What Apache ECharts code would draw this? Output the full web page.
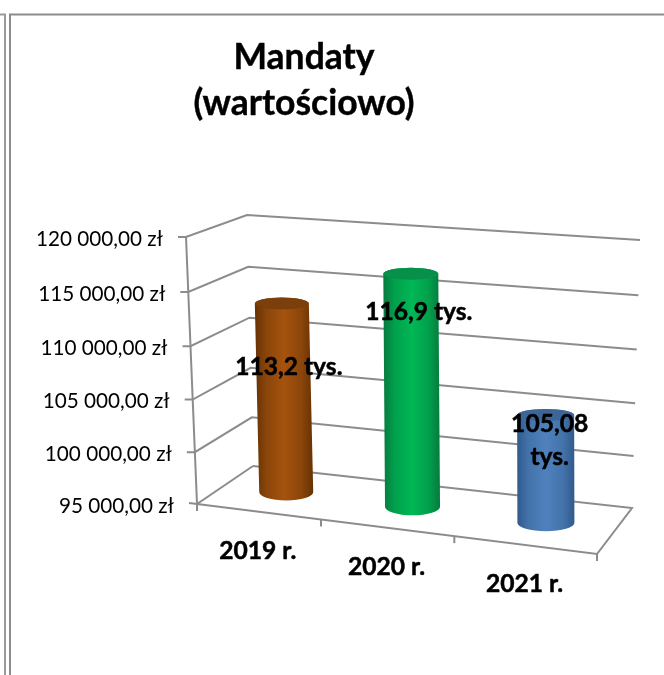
<!DOCTYPE html>
<html>
<head>
<meta charset="utf-8">
<title>Mandaty</title>
<script src="https://cdn.jsdelivr.net/npm/echarts@6/dist/echarts.min.js"></script>
<style>
    html, body { margin: 0; padding: 0; background: #fff; }
    #chart { width: 664px; height: 675px; }
</style>
</head>
<body>
<div id="chart"></div>
<script>
// data
var categories = ['2019 r.', '2020 r.', '2021 r.'];
var values = [113200, 116900, 105080];
var valueLabels = ['113,2 tys.', '116,9 tys.', '105,08\ntys.'];
var tickValues = [95000, 100000, 105000, 110000, 115000, 120000];
var tickLabels = ['95 000,00 zł', '100 000,00 zł', '105 000,00 zł', '110 000,00 zł', '115 000,00 zł', '120 000,00 zł'];

// look
var FONT = 'Lato, "Noto Sans", sans-serif';
var LINE = '#8c8c8c';
var barColors = [
    { edge: '#653205', mid: '#8a4509', light: '#a5530f', top: '#7a3f0b' },
    { edge: '#067a3e', mid: '#02a04c', light: '#00b755', top: '#079049' },
    { edge: '#2f5a8c', mid: '#4473ab', light: '#4f81bd', top: '#3d6698' }
];
var labelShift = [[10, 64], [14, 38], [7, -7]];
// x nudge of each cylinder [base, top] and its radius
var barNudge = [[2, 3], [3, 6], [2, 3]];
var barRadius = [27, 27.5, 28.5];

// corners of the 3d box in page pixels, [bottom, top]
var box = {
    frontLeft: [[197, 504], [186, 237]],
    frontRight: [[597, 554], [585, 269]],
    backLeft: [[253, 466], [247, 215]],
    backRight: [[632, 508], [640, 240]]
};

function mix(a, b, t) {
    return [a[0] + (b[0] - a[0]) * t, a[1] + (b[1] - a[1]) * t];
}

// u, v are 0..1 inside the grid, d is 0 at the front and 1 at the back
function project(u, v, d) {
    var uu = u * (0.895 + 0.105 * u);
    var vv = v * (0.9625 + 0.0375 * v);
    var front = mix(mix(box.frontLeft[0], box.frontLeft[1], vv), mix(box.frontRight[0], box.frontRight[1], vv), uu);
    var back = mix(mix(box.backLeft[0], box.backLeft[1], vv), mix(box.backRight[0], box.backRight[1], vv), uu);
    return mix(front, back, d);
}

// grid pixel from the axes -> 0..1 position
function unit(params, pt) {
    var cs = params.coordSys;
    return [(pt[0] - cs.x) / cs.width, (cs.y + cs.height - pt[1]) / cs.height];
}

function lineEl(points) {
    return {
        type: 'polyline',
        shape: { points: points },
        style: { fill: 'none', stroke: LINE, lineWidth: 2 }
    };
}

function renderWall(params, api) {
    var uv = unit(params, api.coord([0, api.value(1)]));
    var fl = project(0, uv[1], 0);
    var bl = project(0, uv[1], 1);
    var br = project(1, uv[1], 1);
    var isFloor = api.value(1) === tickValues[0];
    return {
        type: 'group',
        children: [
            lineEl(isFloor ? [[fl[0] - 8, fl[1] - 1], fl, bl] : [[fl[0] - 8, fl[1]], fl, bl, br]),
            {
                type: 'text',
                style: {
                    text: tickLabels[params.dataIndex],
                    x: fl[0] - 23,
                    y: fl[1] + 2,
                    align: 'right',
                    verticalAlign: 'middle',
                    fill: '#000',
                    font: '20.7px ' + FONT
                }
            }
        ]
    };
}

function renderFloor(params, api) {
    var min = tickValues[0];
    var max = tickValues[tickValues.length - 1];
    var v0 = unit(params, api.coord([0, min]))[1];
    var v1 = unit(params, api.coord([0, max]))[1];
    var kids = [
        lineEl([project(0, v0, 1), project(1, v0, 1), project(1, v0, 0), project(0, v0, 0)]),
        lineEl([project(0, v0, 0), project(0, v1, 0)])
    ];
    for (var i = 0; i <= categories.length; i++) {
        var p = project(i / categories.length, v0, 0);
        kids.push(lineEl([p, [p[0], p[1] + 7]]));
    }
    return { type: 'group', children: kids };
}

function renderBar(params, api) {
    var i = params.dataIndex;
    var base = unit(params, api.coord([i, tickValues[0]]));
    var top = unit(params, api.coord([i, api.value(1)]));
    var b = project(base[0], base[1], 0.5);
    var t = project(top[0], top[1], 0.5);
    b[0] += barNudge[i][0];
    t[0] += barNudge[i][1];
    var rx = barRadius[i];
    var ryTop = 6;
    var ryBase = 8.5;
    var c = barColors[i];
    var body = 'M' + (t[0] - rx) + ' ' + t[1] +
        ' L' + (b[0] - rx) + ' ' + b[1] +
        ' A' + rx + ' ' + ryBase + ' 0 0 0 ' + (b[0] + rx) + ' ' + b[1] +
        ' L' + (t[0] + rx) + ' ' + t[1] +
        ' A' + rx + ' ' + ryTop + ' 0 0 0 ' + (t[0] - rx) + ' ' + t[1] + ' Z';
    var cap = 'M' + (t[0] - rx) + ' ' + t[1] +
        ' A' + rx + ' ' + ryTop + ' 0 1 1 ' + (t[0] + rx) + ' ' + t[1] +
        ' A' + rx + ' ' + ryTop + ' 0 1 1 ' + (t[0] - rx) + ' ' + t[1] + ' Z';
    return {
        type: 'group',
        children: [
            {
                type: 'path',
                shape: { pathData: body },
                style: {
                    fill: new echarts.graphic.LinearGradient(0, 0, 1, 0, [
                        { offset: 0, color: c.edge },
                        { offset: 0.2, color: c.mid },
                        { offset: 0.5, color: c.light },
                        { offset: 0.8, color: c.mid },
                        { offset: 1, color: c.edge }
                    ])
                }
            },
            { type: 'path', shape: { pathData: cap }, style: { fill: c.top } }
        ]
    };
}

function renderBarLabel(params, api) {
    var i = params.dataIndex;
    var top = unit(params, api.coord([i, api.value(1)]));
    var t = project(top[0], top[1], 0.5);
    return {
        type: 'text',
        style: {
            text: valueLabels[i],
            x: t[0] + labelShift[i][0],
            y: t[1] + labelShift[i][1],
            align: 'center',
            verticalAlign: i === 2 ? 'top' : 'middle',
            fill: '#000',
            stroke: '#000',
            lineWidth: 0.5,
            lineHeight: 33,
            font: 'bold 24.6px ' + FONT
        }
    };
}

function renderCategory(params, api) {
    var uv = unit(params, api.coord([params.dataIndex, tickValues[0]]));
    var p = project(uv[0], uv[1], 0);
    return {
        type: 'text',
        style: {
            text: categories[params.dataIndex],
            x: p[0],
            y: p[1] + 39.5,
            align: 'center',
            verticalAlign: 'middle',
            fill: '#000',
            stroke: '#000',
            lineWidth: 0.5,
            font: 'bold 24.6px ' + FONT
        }
    };
}

function custom(render, data, z) {
    return {
        type: 'custom',
        renderItem: render,
        data: data,
        z: z,
        clip: false,
        silent: true,
        animation: false
    };
}

var barData = values.map(function (v, i) { return [i, v]; });

var option = {
    animation: false,
    backgroundColor: '#fff',
    title: {
        text: 'Mandaty\n(wartościowo)',
        left: 299,
        top: 30,
        textAlign: 'center',
        textStyle: { fontFamily: FONT, fontWeight: 'bold', fontSize: 35.5, lineHeight: 46, color: '#000', textBorderColor: '#000', textBorderWidth: 0.4 }
    },
    grid: { left: 197, right: 67, top: 237, bottom: 171 },
    xAxis: { type: 'category', data: categories, show: false },
    yAxis: { type: 'value', min: 95000, max: 120000, interval: 5000, show: false },
    // page frame around the picture
    graphic: [
        {
            type: 'polyline',
            shape: { points: [[0, 14.5], [5, 14.5], [5, 675]] },
            style: { fill: 'none', stroke: '#9a9a9a', lineWidth: 2 }
        },
        {
            type: 'polyline',
            shape: { points: [[664, 14.5], [10, 14.5], [10, 675]] },
            style: { fill: 'none', stroke: '#8c8c8c', lineWidth: 2 }
        }
    ],
    series: [
        custom(renderWall, tickValues.map(function (v) { return [0, v]; }), 1),
        custom(renderFloor, [[0, tickValues[0]]], 2),
        custom(renderBar, barData, 3),
        custom(renderBarLabel, barData, 4),
        custom(renderCategory, barData, 4)
    ]
};

var chart = echarts.init(document.getElementById('chart'), null, { renderer: 'canvas' });
chart.setOption(option);
</script>
</body>
</html>
